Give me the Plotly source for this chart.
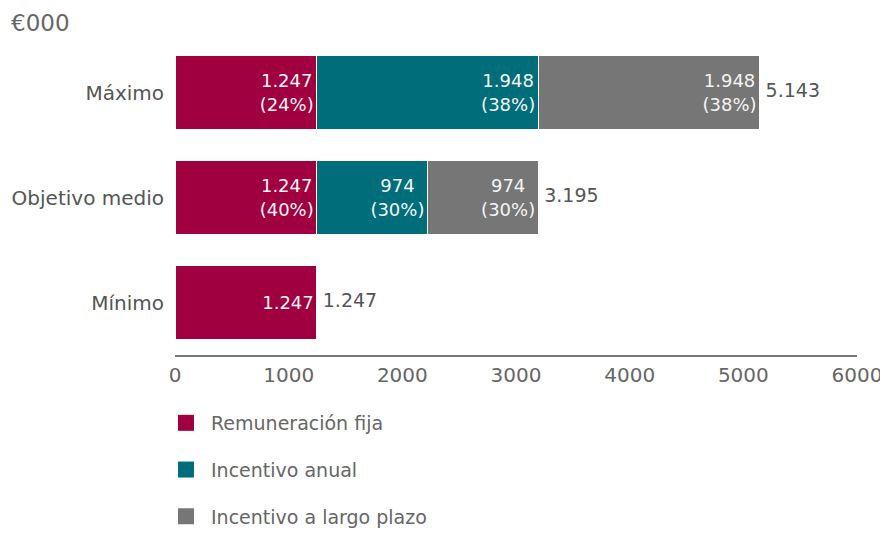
import plotly.graph_objects as go

categories = ["Mínimo", "Objetivo medio", "Máximo"]
fija = [1247, 1247, 1247]
anual = [0, 974, 1948]
largo = [0, 974, 1948]
pct_fija = ["", "40%", "24%"]
pct_anual = ["", "30%", "38%"]
pct_largo = ["", "30%", "38%"]
series_names = ["Remuneración fija", "Incentivo anual", "Incentivo a largo plazo"]
colors = ["#A0003F", "#006E7A", "#767676"]
tick_vals = [0, 1000, 2000, 3000, 4000, 5000, 6000]

FONT = "'DejaVu Sans', sans-serif"
OFF = 8  # page body margin
W, H = 888 - OFF, 560


def px_x(p):  # page x pixel -> paper fraction
    return (p - OFF) / W


def px_y(p):  # page y pixel -> paper fraction
    return 1 - (p - OFF) / H


X0, X1, Y0, Y1 = 175, 857, 40, 355  # plot area in page pixels


def fmt(v):
    return f"{v:,}".replace(",", ".")


def labels(vals, pcts):
    out = []
    for v, p in zip(vals, pcts):
        if v == 0:
            out.append("")
        elif p:
            out.append(f"{fmt(v)}<br>({p})")
        else:
            out.append(fmt(v))
    return out


fig = go.Figure()
for vals, pcts, name, col in zip([fija, anual, largo], [pct_fija, pct_anual, pct_largo], series_names, colors):
    fig.add_trace(go.Bar(
        y=categories, x=vals, name=name, orientation="h",
        marker=dict(color=col, line=dict(color="white", width=1)),
        text=labels(vals, pcts), textposition="inside", insidetextanchor="end",
        textfont=dict(color="#F4F4F4", size=18, family=FONT),
        constraintext="none", hoverinfo="skip", showlegend=False,
    ))

totals = [a + b + c for a, b, c in zip(fija, anual, largo)]
fig.add_trace(go.Scatter(
    y=categories, x=totals, mode="text", text=["\u00a0" + fmt(t) for t in totals],
    textposition="middle right", textfont=dict(color="#555555", size=19, family=FONT),
    showlegend=False, hoverinfo="skip", cliponaxis=False,
))

# legend entries (larger square swatches)
for name, col in zip(series_names, colors):
    fig.add_trace(go.Scatter(
        x=[None], y=[None], mode="markers", name=name, legendgroup=name,
        marker=dict(symbol="square", size=16, color=col), hoverinfo="skip",
    ))

fig.update_layout(
    barmode="stack", bargap=0.3,
    width=W, height=H,
    margin=dict(l=0, r=0, t=0, b=0),
    plot_bgcolor="white", paper_bgcolor="white",
    font=dict(family=FONT, color="#555555", size=18),
    xaxis=dict(domain=[px_x(X0), px_x(X1)], range=[0, 6000], tickvals=tick_vals,
               ticktext=[str(t) for t in tick_vals],
               showgrid=False, zeroline=False, showline=True, linecolor="#777777", linewidth=2,
               ticks="", tickfont=dict(size=20, color="#666666"), ticklabelstandoff=1,
               automargin=False),
    yaxis=dict(domain=[px_y(Y1), px_y(Y0)], showgrid=False, zeroline=False, showline=False,
               ticks="", tickfont=dict(size=20, color="#555555"), ticklabelstandoff=10,
               automargin=False, range=[-0.5, 2.5]),
    legend=dict(orientation="v", x=px_x(X0 - 14), xanchor="left", y=px_y(404), yanchor="top",
                traceorder="grouped", tracegroupgap=19, font=dict(size=19, color="#666666"),
                itemwidth=40, bgcolor="rgba(0,0,0,0)"),
    annotations=[dict(text="€000", x=px_x(9), xref="paper", xanchor="left",
                      y=px_y(23), yref="paper", yanchor="middle", showarrow=False,
                      font=dict(size=23, color="#666666"))],
)

fig.write_html("out.html")
